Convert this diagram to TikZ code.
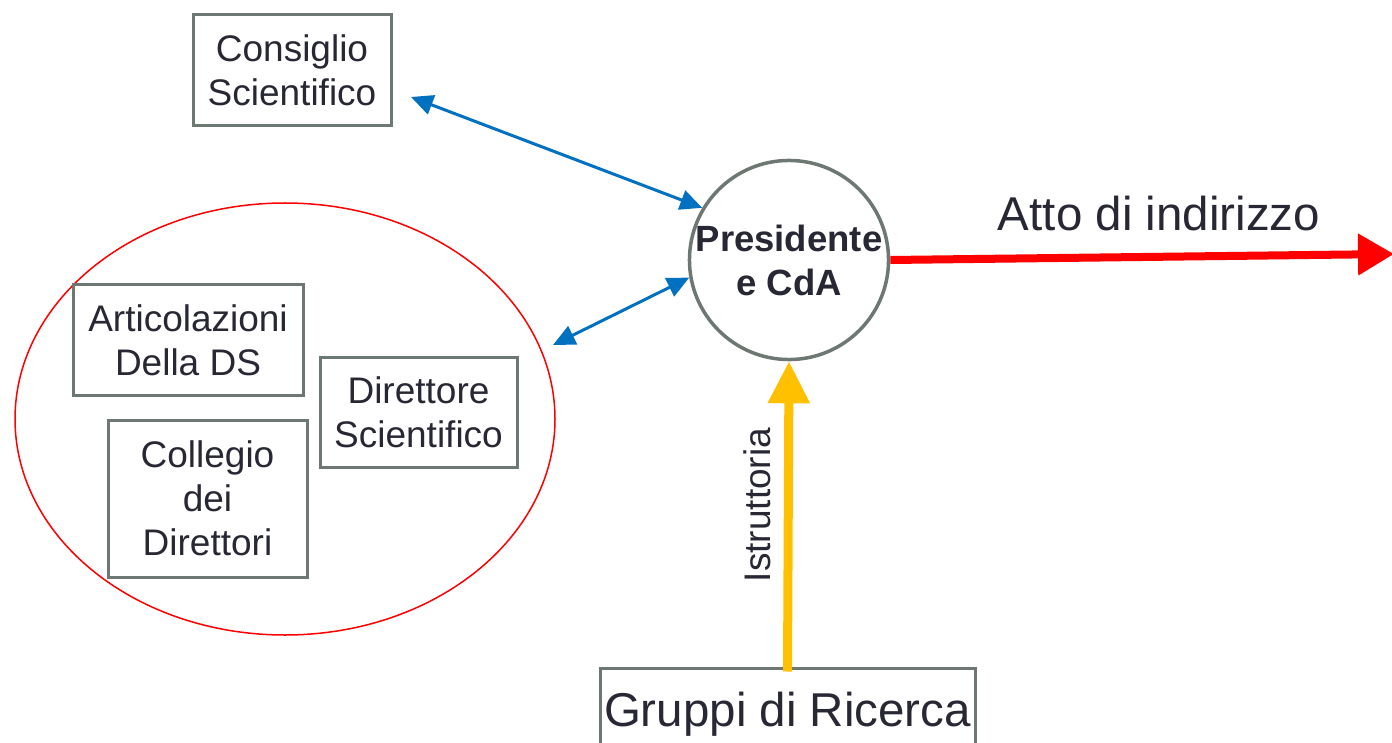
\documentclass[tikz,border=0pt]{standalone}
\usepackage{fontspec}
\setmainfont{Liberation Sans}
\usetikzlibrary{arrows.meta,shapes.geometric}
\definecolor{txt}{RGB}{40,40,52}
\definecolor{bord}{RGB}{110,120,114}
\definecolor{bluearr}{RGB}{0,112,192}
\definecolor{yel}{RGB}{255,192,0}
\begin{document}
\begin{tikzpicture}[x=1pt,y=-1pt,
  box/.style={draw=bord,line width=3pt,inner sep=0pt,align=center,text=txt,
    font=\fontsize{37}{44}\selectfont},
  bluearrow/.style={draw=bluearr,line width=3pt,{Triangle[length=22pt,width=20pt]}-{Triangle[length=22pt,width=20pt]}}]
\useasboundingbox (0,0) rectangle (1392,743);
\clip (0,0) rectangle (1392,743);
\node[draw=red,line width=1.5pt,ellipse,minimum width=540pt,minimum height=432pt,inner sep=0pt] (grp) at (285,419) {};
\node[box,minimum width=198pt,minimum height=111pt] (cs) at (292,70.5) {Consiglio\\Scientifico};
\node[box,minimum width=230pt,minimum height=110pt] (art) at (188,340) {Articolazioni\\Della DS};
\node[box,minimum width=197pt,minimum height=110pt] (dir) at (418.5,412) {Direttore\\Scientifico};
\node[box,minimum width=199pt,minimum height=157pt] (col) at (207.5,498.5) {Collegio\\dei\\Direttori};
\node[box,minimum width=375pt,minimum height=92pt,font=\fontsize{47.5}{55}\selectfont] (gr) at (787.5,714) {Gruppi di Ricerca};
\node[circle,draw=bord,line width=3.5pt,minimum size=194pt,inner sep=0pt,align=center,text=txt,
  font=\fontsize{36.5}{44}\selectfont\bfseries] (pres) at (789,260) {Presidente\\e CdA};
\node[text=txt,font=\fontsize{47.5}{55}\selectfont] (atto) at (1159,214) {Atto di indirizzo};
\node[text=txt,rotate=90,font=\fontsize{37}{44}\selectfont] (istr) at (757,505) {Istruttoria};
\coordinate (b1) at (411,97);
\coordinate (b2) at (553,345);
\coordinate (rend) at (1394,254);
\draw[bluearrow] (b1) -- (pres.149);
\draw[bluearrow] (b2) -- (pres.190);
\draw[red,line width=8pt,-{Triangle[length=36pt,width=40pt]}] (pres.east) -- (rend);
\draw[yel,line width=9pt,-{Triangle[length=42pt,width=40pt]}] ([yshift=-5pt]gr.north) -- (pres.south);
\end{tikzpicture}
\end{document}
